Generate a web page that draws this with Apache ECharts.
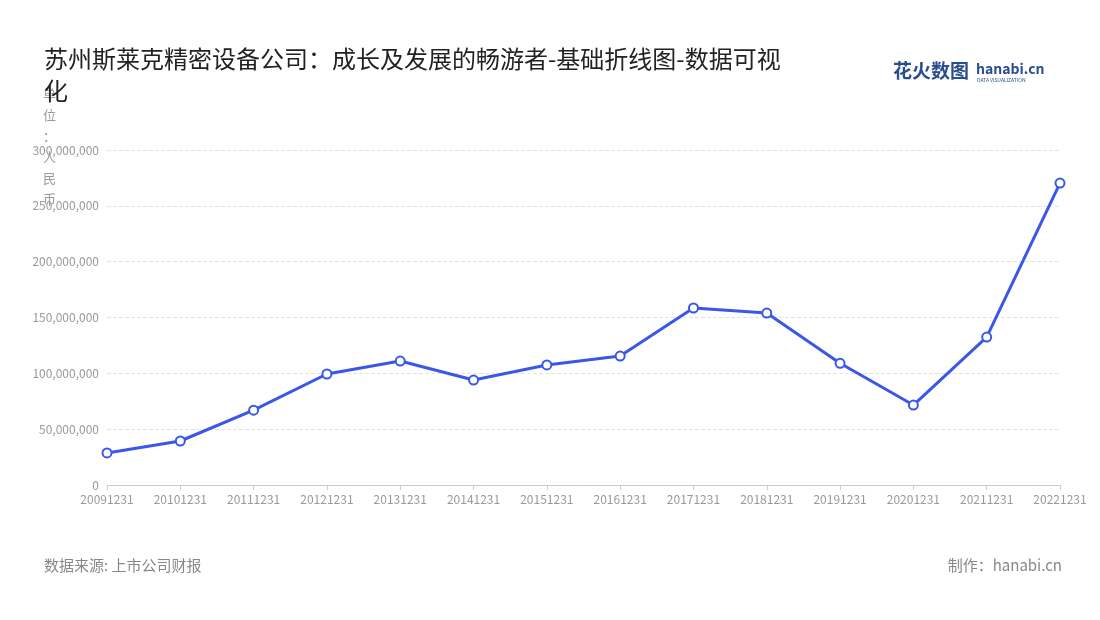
<!DOCTYPE html>
<html>
<head>
<meta charset="utf-8">
<script src="https://cdn.jsdelivr.net/npm/echarts@6/dist/echarts.min.js"></script>
<style>
  body { margin: 0; background: #fff; }
  #main { width: 1100px; height: 620px; }
</style>
</head>
<body>
<div id="main"></div>
<script>
var years = ["20091231", "20101231", "20111231", "20121231", "20131231", "20141231", "20151231",
  "20161231", "20171231", "20181231", "20191231", "20201231", "20211231", "20221231"];
var revenue = [28700000, 39400000, 67000000, 99400000, 111000000, 94000000, 107500000,
  115500000, 158500000, 154000000, 109000000, 71600000, 132500000, 270400000];

var chart = echarts.init(document.getElementById("main"));
var font = "'Noto Sans CJK SC', 'Noto Sans', sans-serif";

chart.setOption({
  textStyle: { fontFamily: font },
  title: {
    text: "苏州斯莱克精密设备公司：成长及发展的畅游者-基础折线图-数据可视\n化",
    left: 39, top: 38,
    textStyle: { fontSize: 24, fontWeight: "normal", color: "#222", lineHeight: 32, fontFamily: font }
  },
  grid: { left: 107, right: 40, top: 150, bottom: 135 },
  xAxis: {
    type: "category",
    data: years,
    boundaryGap: false,
    axisLine: { lineStyle: { color: "#ccc" } },
    axisTick: { show: true, lineStyle: { color: "#ccc" } },
    axisLabel: { color: "#999", fontSize: 12, interval: 0 }
  },
  yAxis: {
    type: "value",
    min: 0, max: 300000000, interval: 50000000,
    axisLabel: {
      color: "#999", fontSize: 12,
      formatter: function (v) { return v.toLocaleString("en-US"); }
    },
    splitLine: { lineStyle: { type: "dashed", color: "#e3e3e3" } }
  },
  graphic: [
    {
      type: "text", left: 43, top: 84,
      style: { text: "单\n位\n：\n人\n民\n币", fill: "#999", fontSize: 13, lineHeight: 21, fontFamily: font }
    },
    {
      type: "text", left: 893, top: 61,
      style: { text: "花火数图", fill: "#2a4d8f", fontSize: 19, fontWeight: "bold", fontFamily: font }
    },
    {
      type: "text", left: 976, top: 62,
      style: { text: "hanabi.cn", fill: "#2a4d8f", fontSize: 14, fontWeight: "bold", fontFamily: font }
    },
    {
      type: "text", left: 977, top: 78,
      style: { text: "DATA VISUALIZATION", fill: "#2a4d8f", fontSize: 5, fontFamily: font }
    },
    {
      type: "text", left: 44, top: 558,
      style: { text: "数据来源: 上市公司财报", fill: "#888", fontSize: 15, fontFamily: font }
    },
    {
      type: "text", right: 38, top: 558,
      style: { text: "制作：hanabi.cn", fill: "#888", fontSize: 15, fontFamily: font }
    }
  ],
  series: [{
    type: "line",
    data: revenue,
    symbol: "emptyCircle",
    symbolSize: 9,
    lineStyle: { color: "#3a57e8", width: 3 },
    itemStyle: { color: "#3a57e8", borderWidth: 2 }
  }]
});
</script>
</body>
</html>
